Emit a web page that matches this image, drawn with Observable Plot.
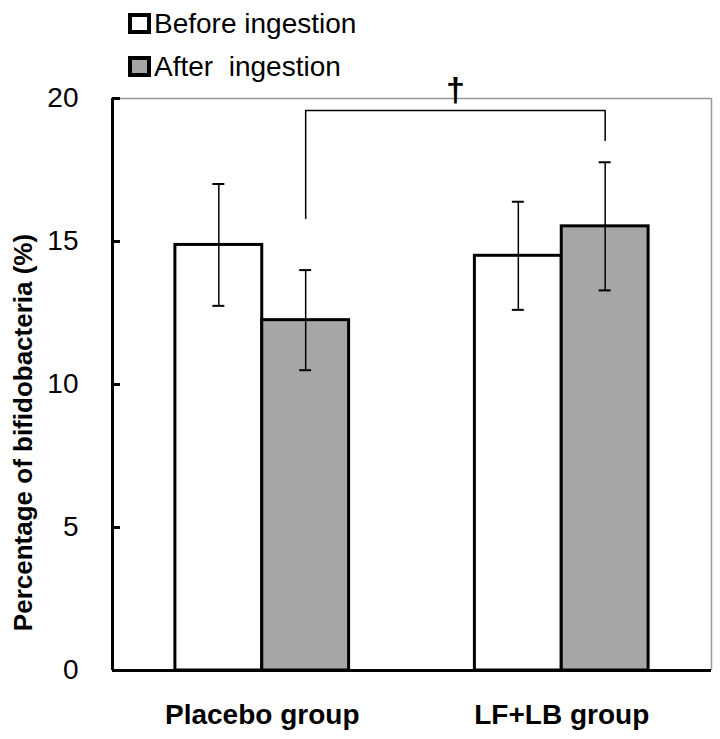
<!DOCTYPE html>
<html>
<head>
<meta charset="utf-8">
<script src="https://cdn.jsdelivr.net/npm/d3@7"></script>
<script src="https://cdn.jsdelivr.net/npm/@observablehq/plot@0.6"></script>
<style>
  html, body { margin: 0; padding: 0; background: #fff; }
  #wrap { position: relative; width: 720px; height: 739px; font-family: "Liberation Sans", Arial, sans-serif; }
  #legend { position: absolute; left: 128px; top: 2px; font-size: 28px; color: #000; }
  .item { display: flex; align-items: center; height: 43px; white-space: pre; }
  .sw { width: 15px; height: 13px; border: 4px solid #000; margin-right: 3px; }
</style>
</head>
<body>
<div id="wrap">
  <div id="legend"></div>
</div>
<script>
// ---- data ----
const groups = ["Placebo group", "LF+LB group"];
const periods = ["Before ingestion", "After  ingestion"];
const periodFill = ["#ffffff", "#a6a6a6"];
const beforeMean = [14.88, 14.5];
const beforeSD = [2.13, 1.89];
const afterMean = [12.25, 15.53];
const afterSD = [1.75, 2.24];
const yTicks = [0, 5, 10, 15, 20];
const yLabel = "Percentage of bifidobacteria (%)";
// significance bracket (y values) and marker
const bracketTop = 19.58;
const bracketLeftEnd = 15.8;
const bracketRightEnd = 18.53;
const sigMark = "\u2020";

// ---- build table ----
const barW = 0.29; // bar width in group units
const rows = [];
groups.forEach((g, i) => {
  const c = i + 0.5;
  rows.push({group: g, period: periods[0], fill: periodFill[0], mean: beforeMean[i], sd: beforeSD[i], x1: c - barW, x2: c});
  rows.push({group: g, period: periods[1], fill: periodFill[1], mean: afterMean[i], sd: afterSD[i], x1: c, x2: c + barW});
});
rows.forEach(r => { r.xc = (r.x1 + r.x2) / 2; r.lo = r.mean - r.sd; r.hi = r.mean + r.sd; });
const capW = 0.02;

const pA = rows[1], lA = rows[3];
const bracket = [
  {x: pA.xc, y: bracketLeftEnd},
  {x: pA.xc, y: bracketTop},
  {x: lA.xc, y: bracketTop},
  {x: lA.xc, y: bracketRightEnd}
];

const chart = Plot.plot({
  width: 720,
  height: 739,
  marginLeft: 112,
  marginRight: 9,
  marginTop: 98,
  marginBottom: 69,
  style: {fontFamily: "'Liberation Sans', Arial, sans-serif", background: "#fff", color: "#000"},
  x: {domain: [0, 2]},
  y: {domain: [0, 20]},
  marks: [
    // frame: gray top and right
    Plot.ruleY([20], {stroke: "#999", strokeWidth: 1.5}),
    Plot.ruleX([2], {stroke: "#999", strokeWidth: 1.5}),
    // bars
    Plot.rectY(rows, {x1: "x1", x2: "x2", y1: 0, y2: "mean", fill: "fill", stroke: "#000", strokeWidth: 3}),
    // error bars
    Plot.ruleX(rows, {x: "xc", y1: "lo", y2: "hi", stroke: "#000", strokeWidth: 1.5}),
    Plot.ruleY(rows, {y: "hi", x1: d => d.xc - capW, x2: d => d.xc + capW, stroke: "#000", strokeWidth: 2}),
    Plot.ruleY(rows, {y: "lo", x1: d => d.xc - capW, x2: d => d.xc + capW, stroke: "#000", strokeWidth: 2}),
    // significance bracket
    Plot.line(bracket, {x: "x", y: "y", stroke: "#000", strokeWidth: 1.5}),
    Plot.text([sigMark], {x: (pA.xc + lA.xc) / 2, y: 20, lineAnchor: "bottom", dy: 2, fontSize: 34, fontWeight: "bold", fill: "#000"}),
    // axes lines
    Plot.ruleX([0], {stroke: "#000", strokeWidth: 3}),
    Plot.ruleY([0], {stroke: "#000", strokeWidth: 3}),
    Plot.axisY({ticks: yTicks, tickSize: 8, dx: 8, tickPadding: 34, strokeWidth: 3, fontSize: 28, tickFormat: d => String(d)}),
    Plot.axisX({ticks: [0.5, 1.5], tickSize: 0, tickPadding: 34, fontSize: 28, fontWeight: "bold", tickFormat: d => groups[Math.floor(d)], label: null}),
    Plot.text([yLabel], {frameAnchor: "left", textAnchor: "middle", dx: -89, dy: 48, rotate: -90, fontSize: 26, fontWeight: "bold", fill: "#000"})
  ]
});
document.getElementById("wrap").appendChild(chart);

// legend
const legend = document.getElementById("legend");
periods.forEach((p, i) => {
  const it = document.createElement("div");
  it.className = "item";
  const sw = document.createElement("div");
  sw.className = "sw";
  sw.style.background = periodFill[i];
  const tx = document.createElement("span");
  tx.textContent = p;
  it.appendChild(sw);
  it.appendChild(tx);
  legend.appendChild(it);
});
</script>
</body>
</html>
